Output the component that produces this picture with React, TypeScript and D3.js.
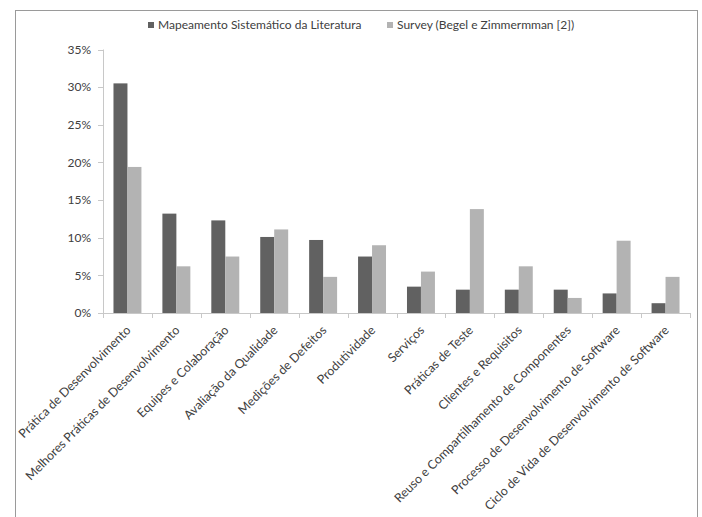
import React from "react";
import * as d3 from "d3";

const categories = [
  "Prática de Desenvolvimento",
  "Melhores Práticas de Desenvolvimento",
  "Equipes e Colaboração",
  "Avaliação da Qualidade",
  "Medições de Defeitos",
  "Produtividade",
  "Serviços",
  "Práticas de Teste",
  "Clientes e Requisitos",
  "Reuso e Compartilhamento de Componentes",
  "Processo de Desenvolvimento de Software",
  "Ciclo de Vida de Desenvolvimento de Software",
];

const mapeamento = [30.5, 13.2, 12.3, 10.1, 9.7, 7.5, 3.5, 3.1, 3.1, 3.1, 2.6, 1.3];
const survey = [19.4, 6.2, 7.5, 11.1, 4.8, 9.0, 5.5, 13.8, 6.2, 2.0, 9.6, 4.8];

const seriesNames = ["Mapeamento Sistemático da Literatura", "Survey (Begel e Zimmermman [2])"];
const seriesColors = ["#616161", "#b3b3b3"];
const yTicks = [0, 5, 10, 15, 20, 25, 30, 35];

const W = 702;
const H = 517;
const FONT = "Lato, 'Open Sans', sans-serif";
const TEXT = "#404040";

export default function App() {
  const x0 = 103;
  const x1 = 690;
  const yBottom = 313;
  const yTop = 49.5;

  const x = d3.scaleBand<string>().domain(categories).range([x0, x1]);
  const y = d3.scaleLinear().domain([0, 35]).range([yBottom, yTop]);
  const bw = x.bandwidth();
  const barW = bw / 3.5;
  const pad = (bw - 2 * barW) / 2;

  const series = [mapeamento, survey];

  return (
    <svg
      width={W}
      height={H}
      style={{ position: "absolute", left: 0, top: 0, background: "#fff" }}
      fontFamily={FONT}
    >
      {/* chart frame */}
      <rect x={15.5} y={10.5} width={682} height={H + 20} fill="none" stroke="#9a9a9a" />

      {/* legend */}
      <g fontSize={12} fill={TEXT}>
        <rect x={148} y={22} width={6} height={6} fill={seriesColors[0]} />
        <text x={158} y={29}>{seriesNames[0]}</text>
        <rect x={387} y={22} width={6} height={6} fill={seriesColors[1]} />
        <text x={397} y={29}>{seriesNames[1]}</text>
      </g>

      {/* y axis */}
      <line x1={x0 + 0.5} x2={x0 + 0.5} y1={y(35)} y2={yBottom} stroke="#c8c8c8" />
      {yTicks.map((t) => (
        <g key={t}>
          <line x1={x0 - 5} x2={x0} y1={Math.round(y(t)) + 0.5} y2={Math.round(y(t)) + 0.5} stroke="#c8c8c8" />
          <text
            x={x0 - 12}
            y={y(t)}
            dy="0.35em"
            textAnchor="end"
            fontSize={12}
            fill={TEXT}
          >
            {t}%
          </text>
        </g>
      ))}

      {/* bars */}
      {categories.map((c, i) => (
        <g key={c}>
          {series.map((s, k) => (
            <rect
              key={k}
              x={(x(c) as number) + pad + k * barW}
              y={y(s[i])}
              width={barW}
              height={yBottom - y(s[i])}
              fill={seriesColors[k]}
            />
          ))}
        </g>
      ))}

      {/* x axis */}
      <line x1={x0} x2={x1} y1={yBottom + 0.5} y2={yBottom + 0.5} stroke="#c8c8c8" />
      {[...categories.map((c) => x(c) as number), x1].map((px, i) => (
        <line
          key={i}
          x1={Math.round(px) + 0.5}
          x2={Math.round(px) + 0.5}
          y1={yBottom}
          y2={yBottom + 5}
          stroke="#c8c8c8"
        />
      ))}
      {categories.map((c) => {
        const cx = (x(c) as number) + bw / 2 + 1;
        return (
          <text
            key={c}
            transform={`translate(${cx},${yBottom + 15}) rotate(-45)`}
            textAnchor="end"
            dy="0.35em"
            fontSize={12.4}
            fill={TEXT}
          >
            {c}
          </text>
        );
      })}
    </svg>
  );
}
